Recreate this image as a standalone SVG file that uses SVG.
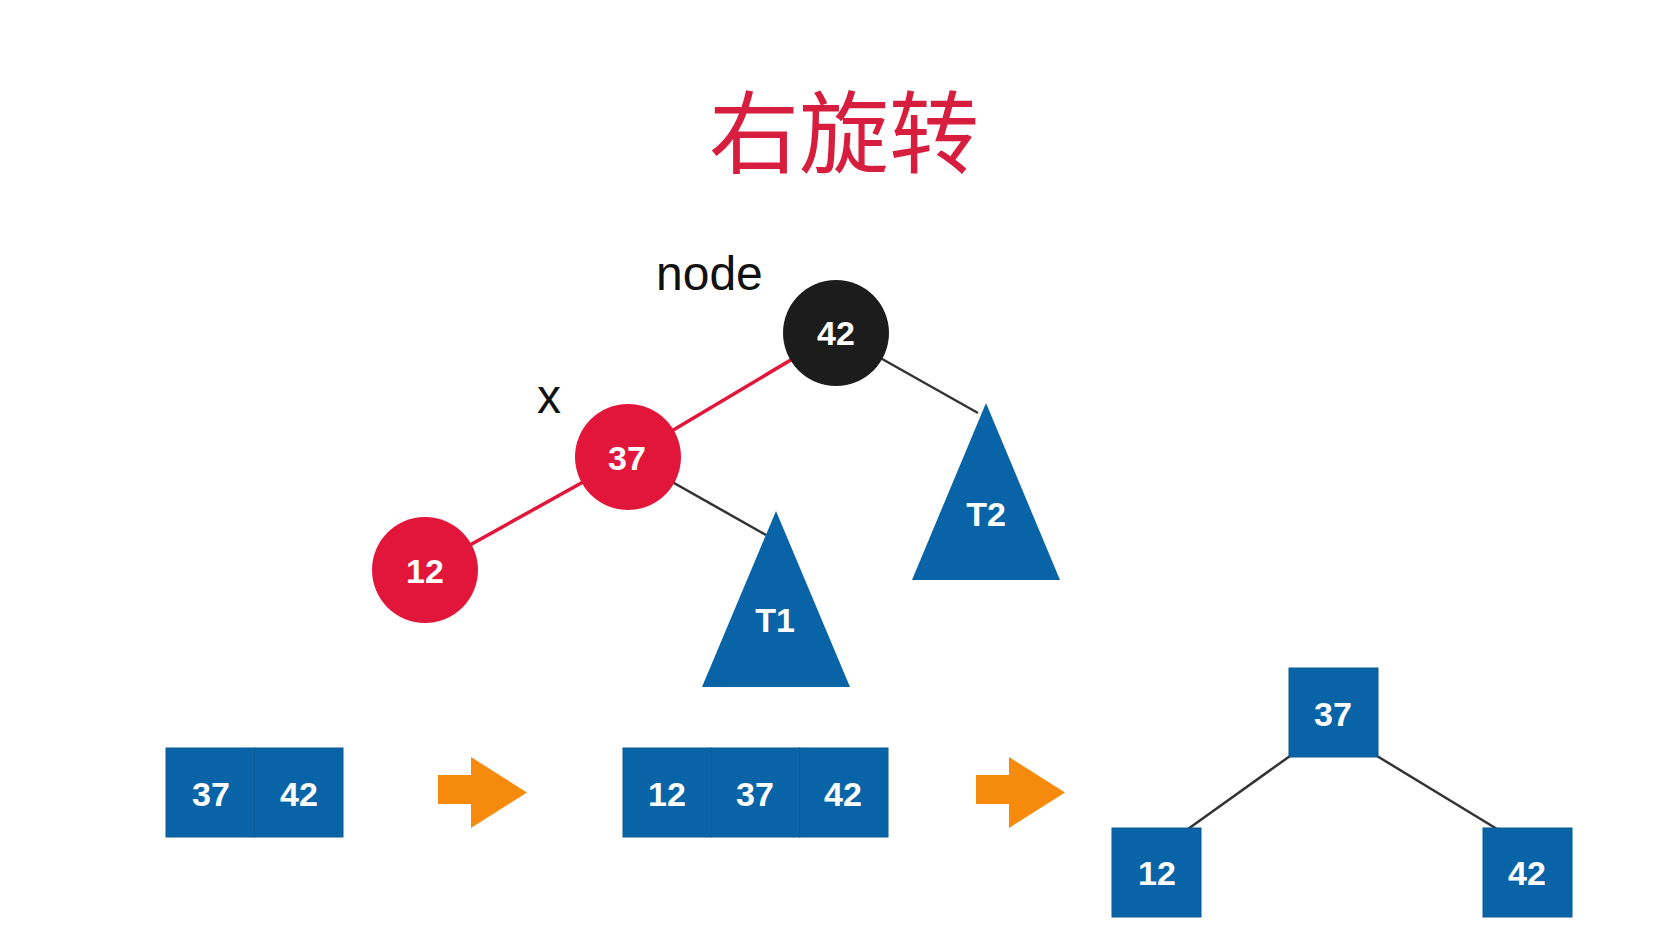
<svg xmlns="http://www.w3.org/2000/svg" width="1662" height="927" viewBox="0 0 1662 927">
<style>
.num{font-family:"Liberation Sans",Arial,sans-serif;font-weight:bold;font-size:34px;fill:#ffffff;text-anchor:middle}
.lbl{font-family:"Liberation Sans",Arial,sans-serif;font-size:48px;fill:#111111}
.red{fill:#e2163a}
.blk{fill:#1c1c1c}
.blue{fill:#0864a6}
.cell{fill:#0864a6;stroke:#0a5a95;stroke-width:1}
.edge{stroke:#333333;stroke-width:2.5;fill:none}
.redge{stroke:#e2163a;stroke-width:3.5;fill:none}
.arrow{fill:#f68a0c}
</style>
<rect width="1662" height="927" fill="#ffffff"/>
<text x="844" y="166" text-anchor="middle" font-family="'Noto Sans CJK SC',sans-serif" font-size="90" fill="#d81e3e">右旋转</text>
<text class="lbl" x="656" y="290" font-size="50">node</text>
<text class="lbl" x="537" y="413">x</text>
<g id="connectors">
<line class="redge" x1="836" y1="333" x2="628" y2="457"/>
<line class="redge" x1="628" y1="457" x2="425" y2="570"/>
<line class="edge" x1="628" y1="457" x2="766" y2="535"/>
<line class="edge" x1="836" y1="333" x2="978" y2="413"/>
<line class="edge" x1="1290" y1="756" x2="1188" y2="829"/>
<line class="edge" x1="1377" y1="756" x2="1497" y2="829"/>
</g>
<g id="node42">
<circle class="blk" cx="836" cy="333" r="53"/>
<text class="num" x="836" y="345">42</text>
</g>
<g id="node37">
<circle class="red" cx="628" cy="457" r="53"/>
<text class="num" x="627" y="470">37</text>
</g>
<g id="node12">
<circle class="red" cx="425" cy="570" r="53"/>
<text class="num" x="425" y="583">12</text>
</g>
<g id="T1">
<polygon class="blue" points="776,511 702,687 850,687"/>
<text class="num" x="775" y="632">T1</text>
</g>
<g id="T2">
<polygon class="blue" points="986,403 912,580 1060,580"/>
<text class="num" x="986" y="526">T2</text>
</g>
<g id="arr1">
<rect class="cell" x="166" y="748" width="88.5" height="89"/>
<rect class="cell" x="254.5" y="748" width="88.5" height="89"/>
<text class="num" x="211" y="806">37</text>
<text class="num" x="299" y="806">42</text>
</g>
<g id="arrowA">
<path class="arrow" d="M438,775 L471,775 L471,757 L527,792.5 L471,828 L471,804 L438,804 Z"/>
</g>
<g id="arr2">
<rect class="cell" x="623" y="748" width="88.3" height="89"/>
<rect class="cell" x="711.3" y="748" width="88.3" height="89"/>
<rect class="cell" x="799.6" y="748" width="88.4" height="89"/>
<text class="num" x="667" y="806">12</text>
<text class="num" x="755" y="806">37</text>
<text class="num" x="843" y="806">42</text>
</g>
<g id="arrowB">
<path class="arrow" d="M976,775 L1009,775 L1009,757 L1065,792.5 L1009,828 L1009,804 L976,804 Z"/>
</g>
<g id="box37">
<rect class="cell" x="1289" y="668" width="89" height="89"/>
<text class="num" x="1333" y="726">37</text>
</g>
<g id="box12">
<rect class="cell" x="1112" y="828" width="89" height="89"/>
<text class="num" x="1157" y="885">12</text>
</g>
<g id="box42">
<rect class="cell" x="1483" y="828" width="89" height="89"/>
<text class="num" x="1527" y="885">42</text>
</g>
</svg>
